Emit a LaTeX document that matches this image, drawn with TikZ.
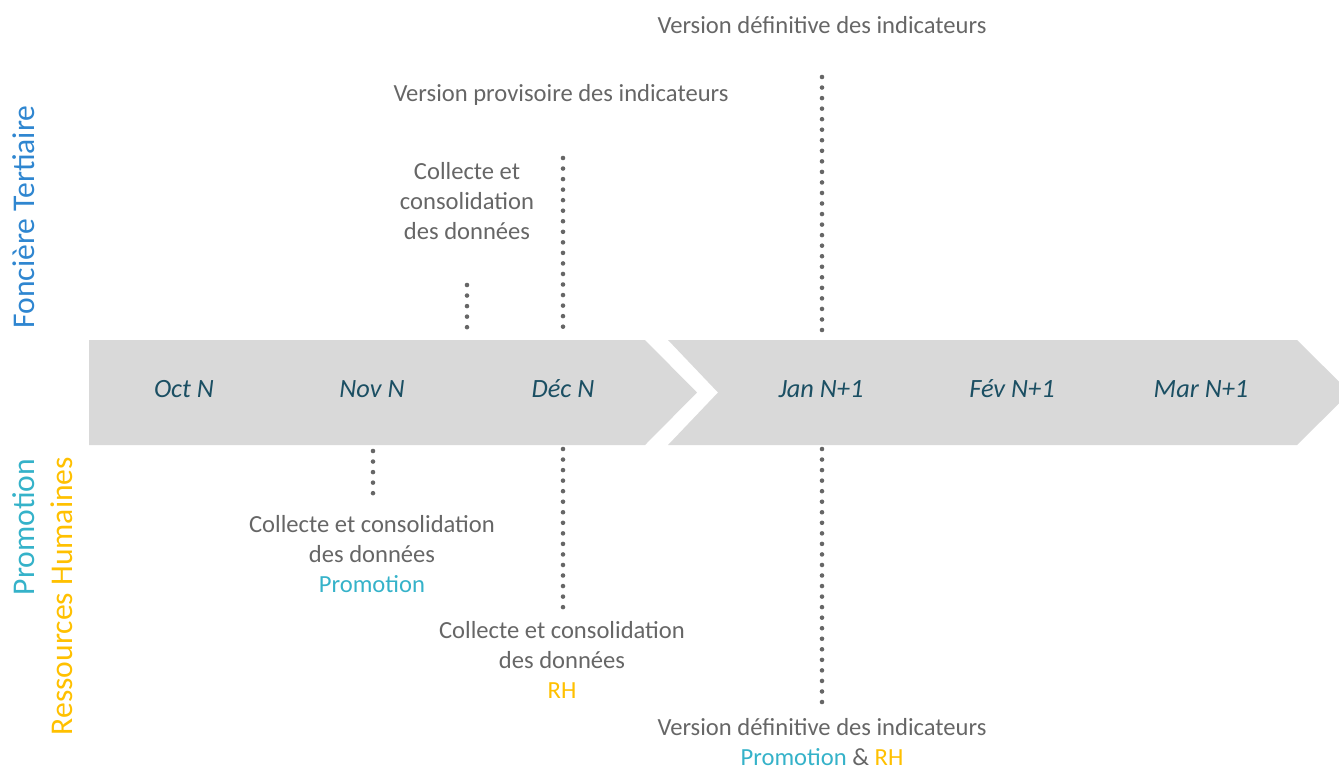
\documentclass[tikz,border=0pt]{standalone}
\usepackage{fontspec}
\setmainfont{Carlito}
\usetikzlibrary{positioning}
\definecolor{fleche}{HTML}{D9D9D9}
\definecolor{gristexte}{HTML}{666666}
\definecolor{mois}{HTML}{1B4F63}
\definecolor{fonciere}{HTML}{2F86D0}
\definecolor{promo}{HTML}{35B2C9}
\definecolor{rh}{HTML}{FFC000}
\tikzset{
  etape/.style={text=gristexte, align=center, font=\fontsize{14}{17}\selectfont},
  moislabel/.style={text=mois, font=\fontsize{15}{17}\selectfont\itshape},
  pointille/.style={draw=gristexte, line width=2.6pt, line cap=round, dash pattern=on 0pt off 6pt},
  domaine/.style={rotate=90, font=\fontsize{18}{20}\selectfont},
}

\begin{document}
\begin{tikzpicture}[x=0.02cm, y=-0.02cm]
    \useasboundingbox (0,0) rectangle (1339,769);

    %Fleches
    \fill[fleche] (89,340) -- (645,340) -- (697,392.5) -- (645,445) -- (89,445) -- cycle;
    \fill[fleche] (668,340) -- (1297,340) -- (1350,392.5) -- (1297,445) -- (668,445) -- (718,392.5) -- cycle;

    %Mois
    \node[moislabel] (oct) at (184,389) {Oct N};
    \node[moislabel] (nov) at (372,389) {Nov N};
    \node[moislabel] (dec) at (563,389) {Déc N};
    \node[moislabel] (jan) at (821,389) {Jan N+1};
    \node[moislabel] (fev) at (1012,389) {Fév N+1};
    \node[moislabel] (mar) at (1201,389) {Mar N+1};

    %Domaines
    \node[domaine, text=fonciere] (fonc) at (24,217) {Foncière Tertiaire};
    \node[domaine, text=promo] (promo) at (24,527) {Promotion};
    \node[domaine, text=rh] (rh) at (62,596) {Ressources Humaines};

    %Etapes en haut
    \node[etape] (defhaut) at (822,25) {Version définitive des indicateurs};
    \node[etape] (prov) at (561,95) {Version provisoire des indicateurs};
    \node[etape] (colfon) at (467,201) {Collecte et\\consolidation\\des données};

    %Etapes en bas
    \node[etape] (colpro) at (372,554)
        {Collecte et consolidation\\des données\\\textcolor{promo}{Promotion}};
    \node[etape] (colrh) at (562,660)
        {Collecte et consolidation\\des données\\\textcolor{rh}{RH}};
    \node[etape] (defbas) at (822,742)
        {Version définitive des indicateurs\\\textcolor{promo}{Promotion} \& \textcolor{rh}{RH}};

    %Pointilles
    \coordinate (a1) at (467,285);  \coordinate (b1) at (467,330);
    \coordinate (a2) at (563,158);  \coordinate (b2) at (563,331);
    \coordinate (a3) at (822,77);   \coordinate (b3) at (822,338);
    \coordinate (a4) at (373,451);  \coordinate (b4) at (373,497);
    \coordinate (a5) at (563,449);  \coordinate (b5) at (563,609);
    \coordinate (a6) at (822,449);  \coordinate (b6) at (822,706);
    \foreach \i in {1,...,6}
        \draw[pointille] (a\i) -- (b\i);

\end{tikzpicture}
\end{document}
